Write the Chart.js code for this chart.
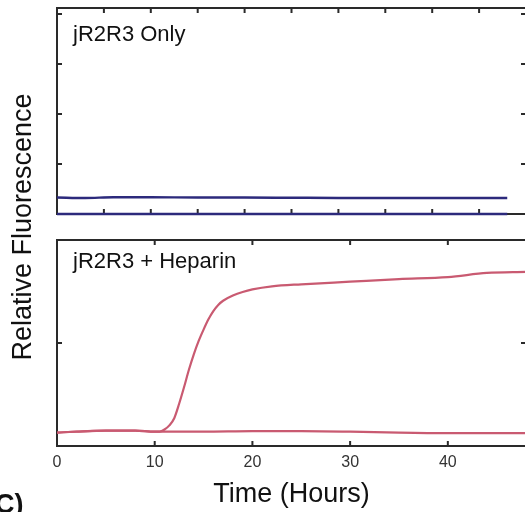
<!DOCTYPE html>
<html><head><meta charset="utf-8">
<script src="https://cdn.jsdelivr.net/npm/chart.js@4/dist/chart.umd.min.js"></script>
<style>
html,body{margin:0;padding:0;background:#fff;overflow:hidden;width:525px;height:512px;position:relative;}
#top{position:absolute;left:0;top:0;}
#bot{position:absolute;left:0;top:230px;}
.lbl{position:absolute;font-family:"Liberation Sans",Arial,sans-serif;color:#111;white-space:nowrap;line-height:1;}
#ylab{left:22px;top:227px;font-size:27px;transform:translate(-50%,-50%) rotate(-90deg);}
#clab{left:-5px;top:491px;font-size:27px;font-weight:bold;}
</style></head><body>
<canvas id="top" width="540" height="230"></canvas>
<canvas id="bot" width="540" height="282"></canvas>
<div class="lbl" id="ylab">Relative Fluorescence</div>
<div class="lbl" id="clab">C)</div>
<script>
// ---- data ----
const TOP_TIME = [0, 3, 6, 10, 15, 20, 25, 30, 35, 40, 45, 48];
const ONLY_SIGNAL = [0.33, 0.32, 0.335, 0.335, 0.33, 0.33, 0.325, 0.32, 0.32, 0.32, 0.32, 0.32];
const ONLY_ZERO = [0, 0, 0, 0, 0, 0, 0, 0, 0, 0, 0, 0];
const HEP_TIME = [0, 2, 5, 8, 10, 10.5, 11, 11.5, 12, 12.5, 13, 13.5, 14, 14.5, 15, 15.5, 16, 16.5, 17, 18, 19, 20, 22, 25, 30, 35, 40, 44, 48];
const HEP_SIGNAL = [0.13, 0.14, 0.15, 0.15, 0.14, 0.14, 0.16, 0.2, 0.27, 0.41, 0.57, 0.74, 0.89, 1.02, 1.13, 1.23, 1.31, 1.37, 1.41, 1.46, 1.495, 1.52, 1.55, 1.57, 1.595, 1.62, 1.64, 1.68, 1.69];
const BASE_TIME = [0, 5, 8, 10, 15, 20, 25, 30, 35, 40, 45, 48];
const BASE_SIGNAL = [0.13, 0.15, 0.15, 0.14, 0.14, 0.145, 0.145, 0.14, 0.13, 0.125, 0.125, 0.125];
const TOP_X_TICKS = [5, 10, 15, 20, 25, 30, 35, 40, 45];
const TOP_Y_TICKS = [1, 2, 3, 4];
const BOT_X_TICKS = [10, 20, 30, 40];
const BOT_X_LABELS = [0, 10, 20, 30, 40];
const BOT_Y_TICKS = [1];

const BLUE = '#2c2a7c';
const RED = '#c95a71';
const FRAME = '#2a2a2a';
const FONT = '"Liberation Sans", Arial, sans-serif';

const pts = (xs, ys) => xs.map((x, i) => ({x, y: ys[i]}));

const frameTicks = {
  id: 'frameTicks',
  beforeDatasetsDraw(chart, args, o) {
    const {ctx, chartArea: a, scales: {x, y}} = chart;
    ctx.save();
    ctx.strokeStyle = FRAME; ctx.lineWidth = 2;
    ctx.strokeRect(a.left, a.top, a.right - a.left, a.bottom - a.top);
    const L = 5;
    ctx.beginPath();
    o.xTicks.forEach(v => { const p = x.getPixelForValue(v);
      ctx.moveTo(p, a.bottom); ctx.lineTo(p, a.bottom - L);
      ctx.moveTo(p, a.top); ctx.lineTo(p, a.top + L); });
    o.yTicks.forEach(v => { const p = y.getPixelForValue(v);
      ctx.moveTo(a.left, p); ctx.lineTo(a.left + L, p);
      ctx.moveTo(a.right, p); ctx.lineTo(a.right - L, p); });
    ctx.stroke();
    ctx.fillStyle = '#111'; ctx.font = '22px ' + FONT; ctx.textBaseline = 'alphabetic';
    ctx.fillText(o.label, a.left + 16, a.top + o.labelDy);
    ctx.restore();
  }
};

const lineDs = (data, color, w) => ({
  data, borderColor: color, borderWidth: w, pointRadius: 0, fill: false,
  cubicInterpolationMode: 'monotone', clip: 4
});

new Chart(document.getElementById('top'), {
  type: 'line',
  data: { datasets: [
    lineDs(pts(TOP_TIME, ONLY_SIGNAL), BLUE, 2.5),
    lineDs(pts(TOP_TIME, ONLY_ZERO), BLUE, 2.5)
  ]},
  options: {
    responsive: false, animation: false,
    layout: { padding: { left: 57, top: 8, right: 14, bottom: 16 } },
    plugins: { legend: { display: false }, tooltip: { enabled: false },
      frameTicks: { xTicks: TOP_X_TICKS, yTicks: TOP_Y_TICKS, label: 'jR2R3 Only', labelDy: 33 } },
    scales: {
      x: { type: 'linear', min: 0, max: 50, display: false },
      y: { min: 0, max: 4.12, display: false }
    }
  },
  plugins: [frameTicks]
});

new Chart(document.getElementById('bot'), {
  type: 'line',
  data: { datasets: [
    lineDs(pts(HEP_TIME, HEP_SIGNAL), RED, 2.2),
    lineDs(pts(BASE_TIME, BASE_SIGNAL), RED, 2.2)
  ]},
  options: {
    responsive: false, animation: false,
    layout: { padding: { left: 57, top: 10, right: 14, bottom: 0 } },
    plugins: { legend: { display: false }, tooltip: { enabled: false },
      frameTicks: { xTicks: BOT_X_TICKS, yTicks: BOT_Y_TICKS, label: 'jR2R3 + Heparin', labelDy: 28 } },
    scales: {
      x: { type: 'linear', min: 0, max: 48,
        grid: { display: false }, border: { display: false },
        afterBuildTicks: s => { s.ticks = BOT_X_LABELS.map(v => ({ value: v })); },
        afterFit: s => { s.height = 66; },
        ticks: { autoSkip: false, maxRotation: 0, padding: -1, color: '#333', font: { family: FONT, size: 16 } },
        title: { display: true, text: 'Time (Hours)', color: '#111', padding: { top: 0, bottom: 1 }, font: { family: FONT, size: 27 } }
      },
      y: { min: 0, max: 2, display: false }
    }
  },
  plugins: [frameTicks]
});
</script>
</body></html>
